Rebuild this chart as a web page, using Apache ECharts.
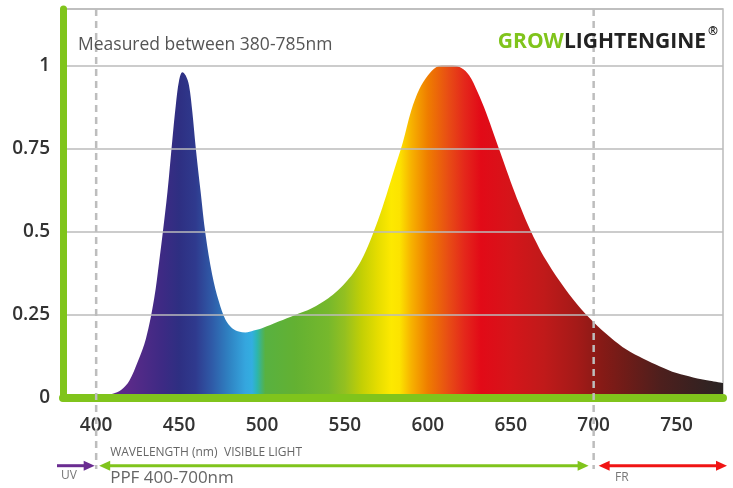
<!DOCTYPE html>
<html><head><meta charset="utf-8">
<script src="https://cdn.jsdelivr.net/npm/echarts@6/dist/echarts.min.js"></script>
<style>html,body{margin:0;padding:0;background:#fff}#c{width:733px;height:488px}</style>
</head><body><div id="c"></div>
<script>
// ---- data ----
const wavelengths = [380,390,400,405,410,415,420,425,430,435,438,440,443,446,448,450,452,454,456,458,460,463,466,470,474,478,482,486,490,495,500,510,520,530,540,545,550,555,560,565,570,575,580,585,590,595,600,605,610,615,620,625,630,635,640,645,650,655,660,665,670,680,690,700,710,720,730,740,750,760,770,778];
const intensity   = [0.002,0.003,0.005,0.008,0.013,0.024,0.052,0.108,0.178,0.3,0.41,0.49,0.62,0.78,0.88,0.955,0.98,0.97,0.94,0.86,0.755,0.62,0.49,0.37,0.29,0.235,0.21,0.2,0.197,0.203,0.21,0.23,0.25,0.27,0.3,0.32,0.345,0.375,0.415,0.47,0.535,0.61,0.69,0.77,0.865,0.93,0.97,0.995,1.0,1.0,0.993,0.97,0.92,0.86,0.79,0.72,0.65,0.585,0.525,0.472,0.425,0.348,0.282,0.228,0.183,0.145,0.118,0.095,0.075,0.062,0.052,0.045];
const xTickLabels = [400,450,500,550,600,650,700,750];
const yTickLabels = [0,0.25,0.5,0.75,1];
const spectrumNm     = [380,420,440,450,460,470,480,490,494,497,502,520,540,550,560,570,578,583,590,600,612,622,632,650,670,690,705,720,740,760,778];
const spectrumColors = ['#6b2c91','#5a2a89','#3d2a84','#2e2f82','#2f3a8e','#2f5ba8','#2f82c2','#35a6de','#33aee0','#2cb6b0','#58b140','#63b132','#76b82c','#94c020','#c2cf05','#e6dd00','#fde900','#fce300','#f7b200','#ef7d00','#e84e14','#e4281b','#e20a17','#d5151a','#c01a1a','#a41a18','#861a16','#6e1c18','#4e1f1d','#3a2120','#2a2424'];
const bandMarks = [400,700];

const X_MIN = 380, X_MAX = 778, Y_MAX = 1.17;
const GREEN = '#80c41c', FONT = 'Open Sans';

const chart = echarts.init(document.getElementById('c'), null, {renderer:'canvas'});
const seriesData = wavelengths.map((w,i)=>[w,intensity[i]]);
const stops = spectrumNm.map((w,i)=>({offset:(w-X_MIN)/(X_MAX-X_MIN), color:spectrumColors[i]}));

chart.setOption({
  animation:false,
  grid:{left:63,right:10,top:9,bottom:90,show:true,borderColor:'#bbb',borderWidth:1.5},
  xAxis:{type:'value',min:X_MIN,max:X_MAX,z:5,
    axisLine:{show:true,lineStyle:{color:GREEN,width:8}},
    axisTick:{show:false},splitLine:{show:false},
    axisLabel:{customValues:xTickLabels,margin:18,color:'#333',fontSize:19,fontWeight:600,fontFamily:FONT}},
  yAxis:{type:'value',min:0,max:Y_MAX,interval:0.25,z:5,
    axisLine:{show:true,lineStyle:{color:GREEN,width:7}},
    axisTick:{show:false},
    splitLine:{show:true,lineStyle:{color:'#bbb',width:1.5}},
    axisLabel:{margin:13,color:'#333',fontSize:19,fontWeight:600,fontFamily:FONT,
      formatter:v=>yTickLabels.some(t=>Math.abs(t-v)<1e-6)?String(v):''}},
  series:[{type:'line',data:seriesData,smooth:0.35,showSymbol:false,z:2,
    lineStyle:{width:0},
    areaStyle:{opacity:1,color:{type:'linear',x:0,y:0,x2:1,y2:0,colorStops:stops}}}]
});

const P = (x,y)=>chart.convertToPixel({gridIndex:0},[x,y]);
const yTop = P(X_MIN,Y_MAX)[1];
const arrowY = 465.7;
const g = [];
bandMarks.forEach(b=>{
  const x = P(b,0)[0];
  g.push({type:'line',z:100,shape:{x1:x,y1:yTop,x2:x,y2:469},style:{stroke:'#bdbdbd',lineWidth:2.5,lineDash:[7,5]}});
});
function arrow(x1,x2,color,headL,headR){
  const L=11,H=5;
  const a=headL?x1+L-2:x1, b=headR?x2-L+2:x2;
  g.push({type:'line',z:100,shape:{x1:a,y1:arrowY,x2:b,y2:arrowY},style:{stroke:color,lineWidth:3}});
  if(headL) g.push({type:'polygon',z:100,shape:{points:[[x1,arrowY],[x1+L,arrowY-H],[x1+L,arrowY+H]]},style:{fill:color}});
  if(headR) g.push({type:'polygon',z:100,shape:{points:[[x2,arrowY],[x2-L,arrowY-H],[x2-L,arrowY+H]]},style:{fill:color}});
}
const x380=P(380,0)[0], x400=P(400,0)[0], x700=P(700,0)[0], x778=P(X_MAX,0)[0];
arrow(x380-6, x400-1.5, '#6a2c91', false, true);
arrow(x400+3, x700-5, GREEN, true, true);
arrow(x700+5, x778+4, '#f01414', true, true);

const txt=(x,y,text,size,color,extra)=>g.push(Object.assign({type:'text',z:100,x:x,y:y,
  style:{text:text,fontSize:size,fill:color,fontFamily:FONT,verticalAlign:'middle',align:'left'}},extra||{}));
txt(78,45,'Measured between 380-785nm',17.5,'#555');
txt(x400+14,453,'WAVELENGTH (nm)',12,'#666');
txt(224,453,'VISIBLE LIGHT',12,'#666');
txt(x400+14,478,'PPF 400-700nm',17,'#666');
txt(61,476,'UV',12,'#777');
txt(615,478,'FR',12,'#777');
g.push({type:'text',z:100,x:706,y:42,style:{text:'{g|GROW}{d|LIGHTENGINE}',align:'right',verticalAlign:'middle',
  rich:{g:{fill:GREEN,fontSize:21,fontWeight:700,fontFamily:FONT},d:{fill:'#222',fontSize:21,fontWeight:700,fontFamily:FONT}}}});
g.push({type:'text',z:100,x:708,y:32,style:{text:'®',fontSize:12,fontWeight:700,fill:'#222',fontFamily:FONT,verticalAlign:'middle',align:'left'}});
chart.setOption({graphic:g});
</script></body></html>
